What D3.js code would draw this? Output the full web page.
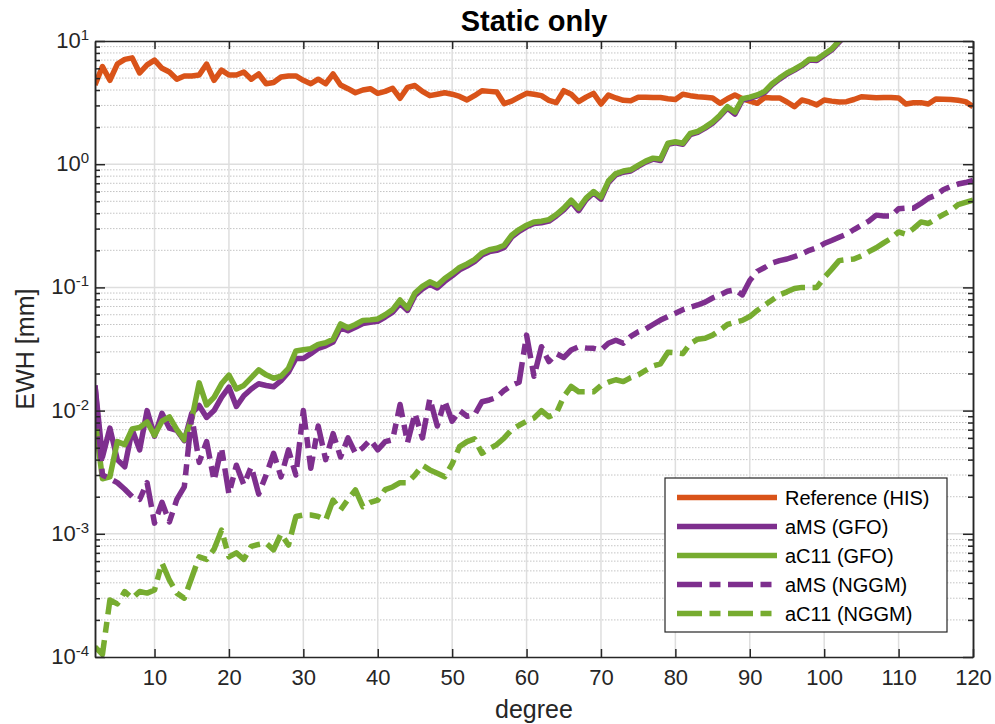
<!DOCTYPE html>
<html>
<head>
<meta charset="utf-8">
<script src="https://cdn.jsdelivr.net/npm/d3@7"></script>
<style>
body { margin: 0; background: #fff; }
svg { font-family: "Liberation Sans", Arial, Helvetica, sans-serif; }
</style>
</head>
<body>
<svg width="995" height="724"></svg>
<script>
// spherical harmonic degree 2..120
var degrees = d3.range(2, 121);

var refHIS = [4.4,6.2,4.8,6.5,7.1,7.3,5.5,6.4,7.0,
    6.0,5.6,4.9,5.2,5.2,5.3,6.5,4.8,5.8,5.3,
    5.3,5.6,4.9,5.4,4.5,4.6,5.1,5.2,5.2,4.8,
    4.5,4.9,4.5,5.4,4.4,4.1,3.8,4.0,4.1,3.76,
    3.9,4.13,3.43,4.2,4.35,3.9,3.6,3.7,3.8,3.7,
    3.55,3.32,3.6,3.95,3.9,3.85,3.1,3.25,3.5,3.76,
    3.7,3.6,3.3,3.16,3.95,3.7,3.22,3.5,3.76,3.08,
    3.64,3.45,3.3,3.28,3.5,3.5,3.48,3.48,3.4,3.35,
    3.7,3.6,3.53,3.5,3.45,3.12,3.4,3.64,3.4,3.25,
    3.12,3.48,3.45,3.45,3.2,2.93,3.32,3.2,3.03,3.32,
    3.25,3.2,3.22,3.35,3.53,3.5,3.47,3.48,3.48,3.45,
    3.08,3.15,3.16,3.08,3.38,3.37,3.35,3.3,3.22,2.93];

// degree 2..103 (runs off the top of the axes)
var aMSGFO = [0.0160,0.0042,0.0072,0.0040,0.0035,0.0070,0.0048,0.0100,0.0062,
    0.0095,0.0072,0.0069,0.0057,0.0095,0.0110,0.0088,0.0100,0.0128,0.0155,
    0.0108,0.0132,0.0150,0.0165,0.0160,0.0156,0.0175,0.0205,0.0265,0.0265,
    0.0290,0.0320,0.0335,0.0360,0.0470,0.0445,0.0475,0.0510,0.0520,0.0530,
    0.0575,0.0630,0.0740,0.0650,0.0860,0.0970,0.1060,0.0990,0.1120,0.1240,
    0.1390,0.1490,0.1620,0.1830,0.1950,0.2000,0.2110,0.2560,0.2850,0.3100,
    0.3300,0.3350,0.3450,0.3800,0.4250,0.4950,0.4200,0.5150,0.5850,0.5200,
    0.7100,0.8200,0.8600,0.8800,0.9600,1.0400,1.1000,1.0700,1.4500,1.4900,
    1.4500,1.7400,1.8100,1.9600,2.1500,2.4500,2.8500,2.5500,3.3200,3.4300,
    3.5800,3.8200,4.4000,4.9000,5.4000,5.8000,6.3000,7.0000,6.9500,7.6500,
    8.4500,9.8000,11.300];

var aC11GFO = [0.0084,0.0028,0.0029,0.0056,0.0053,0.0071,0.0073,0.0081,0.0063,
    0.0082,0.0089,0.0070,0.0058,0.0085,0.0168,0.0111,0.0128,0.0165,0.0194,
    0.0150,0.0160,0.0185,0.0214,0.0195,0.0183,0.0190,0.0220,0.0305,0.0312,
    0.0318,0.0345,0.0355,0.0380,0.0505,0.0470,0.0500,0.0540,0.0545,0.0555,
    0.0600,0.0660,0.0790,0.0680,0.0900,0.1020,0.1110,0.1040,0.1180,0.1300,
    0.1450,0.1550,0.1680,0.1900,0.2020,0.2080,0.2200,0.2650,0.2950,0.3200,
    0.3400,0.3450,0.3550,0.3900,0.4400,0.5100,0.4400,0.5300,0.6000,0.5400,
    0.7300,0.8400,0.8800,0.9000,0.9800,1.0600,1.1200,1.1000,1.4800,1.5200,
    1.4800,1.7800,1.8500,2.0000,2.2000,2.5000,2.9300,2.6500,3.4000,3.5000,
    3.6500,3.9000,4.5000,5.0000,5.5000,5.9000,6.4000,7.1000,7.1000,7.8000,
    8.6000,10.000,11.500];

var aMSNGGM = [0.0160,0.0030,0.0028,0.0026,0.0023,0.0020,0.0019,0.0026,0.00122,
    0.0018,0.00125,0.0019,0.0024,0.0090,0.0038,0.0056,0.0027,0.0050,0.0021,
    0.0036,0.0025,0.0035,0.0021,0.0030,0.0045,0.0029,0.0048,0.0030,0.0100,
    0.0034,0.0075,0.0040,0.0065,0.0042,0.0060,0.0045,0.0050,0.0058,0.0048,
    0.0056,0.0058,0.0112,0.0055,0.0095,0.0060,0.0125,0.0075,0.0120,0.0082,
    0.0100,0.0090,0.0092,0.0118,0.0122,0.0128,0.0146,0.0160,0.0170,0.0410,
    0.0190,0.0330,0.0250,0.0290,0.0270,0.0310,0.0329,0.0322,0.0320,0.0310,
    0.0352,0.0373,0.0352,0.0400,0.0436,0.0460,0.0500,0.0543,0.0580,0.0617,
    0.0659,0.0690,0.0720,0.0760,0.0820,0.0870,0.0930,0.0956,0.0870,0.1138,
    0.1350,0.1450,0.1580,0.1650,0.1700,0.1780,0.1870,0.2000,0.2100,0.2270,
    0.2400,0.2550,0.2700,0.2950,0.3200,0.3450,0.3860,0.3800,0.3800,0.4350,
    0.4400,0.4400,0.4800,0.5300,0.5600,0.6200,0.6600,0.6900,0.7100,0.7400];

var aC11NGGM = [0.000121,0.000105,0.00029,0.00027,0.00034,0.00030,0.00034,0.00033,0.00035,
    0.00058,0.00042,0.00033,0.00030,0.00044,0.00065,0.00062,0.00075,0.00107,0.00065,
    0.00070,0.00062,0.00079,0.00082,0.00084,0.00074,0.00100,0.00081,0.00138,0.00142,
    0.00142,0.00138,0.00129,0.00188,0.00156,0.00190,0.00227,0.00166,0.00180,0.00188,
    0.00228,0.00240,0.00260,0.00260,0.00300,0.00360,0.00330,0.00310,0.00290,0.00370,
    0.00510,0.00560,0.00590,0.00450,0.00490,0.00530,0.00600,0.00700,0.00760,0.00820,
    0.00870,0.01000,0.00890,0.00950,0.01300,0.01570,0.01420,0.01420,0.01420,0.01600,
    0.01700,0.01780,0.01720,0.01850,0.01950,0.02120,0.02300,0.02400,0.02980,0.02950,
    0.02900,0.03500,0.03800,0.03860,0.04100,0.04500,0.05000,0.05200,0.05400,0.05800,
    0.06500,0.07200,0.07900,0.08700,0.09200,0.09800,0.10000,0.10000,0.10000,0.12000,
    0.14000,0.16500,0.16800,0.17000,0.18000,0.19500,0.21000,0.23000,0.25000,0.28200,
    0.27000,0.30000,0.34000,0.33000,0.36000,0.39000,0.42000,0.47000,0.49000,0.51000];

var seriesNames = ['Reference (HIS)', 'aMS (GFO)', 'aC11 (GFO)', 'aMS (NGGM)', 'aC11 (NGGM)'];
var seriesValues = [refHIS, aMSGFO, aC11GFO, aMSNGGM, aC11NGGM];
var seriesColors = ['#D95319', '#7E2F8E', '#77AC30', '#7E2F8E', '#77AC30'];
var seriesDashed = [false, false, false, true, true];

var xTicks = [10, 20, 30, 40, 50, 60, 70, 80, 90, 100, 110, 120];
var yExponents = [-4, -3, -2, -1, 0, 1];

var plotLeft = 95, plotRight = 973, plotTop = 41, plotBottom = 657;
var ink = '#262626';
var dash = '25,7.5,11,7.5';

var xScale = d3.scaleLinear()
    .domain([2, 120])
    .range([plotLeft, plotRight]);

var yScale = d3.scaleLog()
    .domain([1e-4, 10])
    .range([plotBottom, plotTop]);

var majorY = yExponents.map(function(e){ return Math.pow(10, e); });
var minorY = [];
yExponents.slice(0, -1).forEach(function(e){
    for (var m = 2; m <= 9; m++) minorY.push(m * Math.pow(10, e));
});

var svg = d3.select('svg');

svg.append('defs').append('clipPath')
    .attr('id', 'plotclip')
    .append('rect')
    .attr('x', plotLeft).attr('y', plotTop)
    .attr('width', plotRight - plotLeft).attr('height', plotBottom - plotTop);

// grid
var grid = svg.append('g');

grid.selectAll('line.minor')
    .data(minorY)
    .enter()
    .append('line')
    .attr('class', 'minor')
    .attr('x1', plotLeft).attr('x2', plotRight)
    .attr('y1', function(d){ return yScale(d); })
    .attr('y2', function(d){ return yScale(d); })
    .style('stroke', '#c4c4c4')
    .style('stroke-width', 1)
    .style('stroke-dasharray', '1.5,1.5');

grid.selectAll('line.majory')
    .data(majorY.slice(1, -1))
    .enter()
    .append('line')
    .attr('class', 'majory')
    .attr('x1', plotLeft).attr('x2', plotRight)
    .attr('y1', function(d){ return yScale(d); })
    .attr('y2', function(d){ return yScale(d); })
    .style('stroke', '#dedede')
    .style('stroke-width', 1.5);

grid.selectAll('line.majorx')
    .data(xTicks.slice(0, -1))
    .enter()
    .append('line')
    .attr('class', 'majorx')
    .attr('y1', plotTop).attr('y2', plotBottom)
    .attr('x1', function(d){ return xScale(d); })
    .attr('x2', function(d){ return xScale(d); })
    .style('stroke', '#dedede')
    .style('stroke-width', 1.5);

// series
var line = d3.line()
    .x(function(d){ return xScale(d[0]); })
    .y(function(d){ return yScale(d[1]); });

var plot = svg.append('g').attr('clip-path', 'url(#plotclip)');

seriesValues.forEach(function(vals, i){
    var pts = vals.map(function(v, j){ return [degrees[j], v]; });
    plot.append('path')
        .datum(pts)
        .attr('d', line)
        .style('fill', 'none')
        .style('stroke', seriesColors[i])
        .style('stroke-width', 5.5)
        .style('stroke-linejoin', 'round')
        .style('stroke-linecap', 'butt')
        .style('stroke-dasharray', seriesDashed[i] ? dash : null);
});

// axes (ticks inward, MATLAB box style)
var xAxis = d3.axisBottom(xScale).tickValues(xTicks).tickSize(-8).tickSizeOuter(0).tickPadding(12);
var xTop = d3.axisTop(xScale).tickValues(xTicks).tickSize(-8).tickSizeOuter(0).tickFormat('');
var yMajL = d3.axisLeft(yScale).tickValues(majorY).tickSize(-10).tickSizeOuter(0).tickFormat('');
var yMinL = d3.axisLeft(yScale).tickValues(minorY).tickSize(-5).tickSizeOuter(0).tickFormat('');
var yMajR = d3.axisRight(yScale).tickValues(majorY).tickSize(-10).tickSizeOuter(0).tickFormat('');
var yMinR = d3.axisRight(yScale).tickValues(minorY).tickSize(-5).tickSizeOuter(0).tickFormat('');

function styleAxis(g){
    g.selectAll('path').style('stroke', ink).style('stroke-width', 1.5);
    g.selectAll('line').style('stroke', ink).style('stroke-width', 1.5);
    g.selectAll('text').style('fill', ink).style('font-size', '22px')
        .style('font-family', '"Liberation Sans", Arial, sans-serif');
}

svg.append('g').attr('transform', 'translate(0,' + plotBottom + ')').call(xAxis).call(styleAxis);
svg.append('g').attr('transform', 'translate(0,' + plotTop + ')').call(xTop).call(styleAxis);
svg.append('g').attr('transform', 'translate(' + plotLeft + ',0)').call(yMajL).call(styleAxis);
svg.append('g').attr('transform', 'translate(' + plotLeft + ',0)').call(yMinL).call(styleAxis);
svg.append('g').attr('transform', 'translate(' + plotRight + ',0)').call(yMajR).call(styleAxis);
svg.append('g').attr('transform', 'translate(' + plotRight + ',0)').call(yMinR).call(styleAxis);

// y tick labels with exponents
var ylab = svg.append('g')
    .selectAll('text')
    .data(yExponents)
    .enter()
    .append('text')
    .attr('x', 89)
    .attr('y', function(d){ return yScale(Math.pow(10, d)) + 7; })
    .style('text-anchor', 'end')
    .style('fill', ink)
    .style('font-size', '22px');
ylab.append('tspan').text('10');
ylab.append('tspan')
    .attr('dy', -8)
    .style('font-size', '15px')
    .text(function(d){ return d; });

// titles
svg.append('text')
    .attr('x', (plotLeft + plotRight) / 2)
    .attr('y', 31)
    .style('text-anchor', 'middle')
    .style('font-weight', 'bold')
    .style('font-size', '29px')
    .style('fill', '#000')
    .text('Static only');

svg.append('text')
    .attr('x', (plotLeft + plotRight) / 2)
    .attr('y', 718)
    .style('text-anchor', 'middle')
    .style('font-size', '25px')
    .style('fill', ink)
    .text('degree');

svg.append('text')
    .attr('transform', 'translate(34,' + (plotTop + plotBottom) / 2 + ')rotate(-90)')
    .style('text-anchor', 'middle')
    .style('font-size', '25px')
    .style('fill', ink)
    .text('EWH [mm]');

// legend
var legend = svg.append('g');
legend.append('rect')
    .attr('x', 665).attr('y', 478)
    .attr('width', 282).attr('height', 154)
    .style('fill', '#fff')
    .style('stroke', ink)
    .style('stroke-width', 1.2);

var rows = legend.selectAll('g.row')
    .data(seriesNames)
    .enter()
    .append('g')
    .attr('class', 'row')
    .attr('transform', function(d, i){ return 'translate(0,' + (497.5 + i * 29) + ')'; });

rows.append('line')
    .attr('x1', 677).attr('x2', 777)
    .style('stroke', function(d, i){ return seriesColors[i]; })
    .style('stroke-width', 5.5)
    .style('stroke-dasharray', function(d, i){ return seriesDashed[i] ? dash : null; });

rows.append('text')
    .attr('x', 785)
    .attr('y', 7)
    .style('font-size', '20px')
    .style('fill', '#000')
    .text(function(d){ return d; });
</script>
</body>
</html>
